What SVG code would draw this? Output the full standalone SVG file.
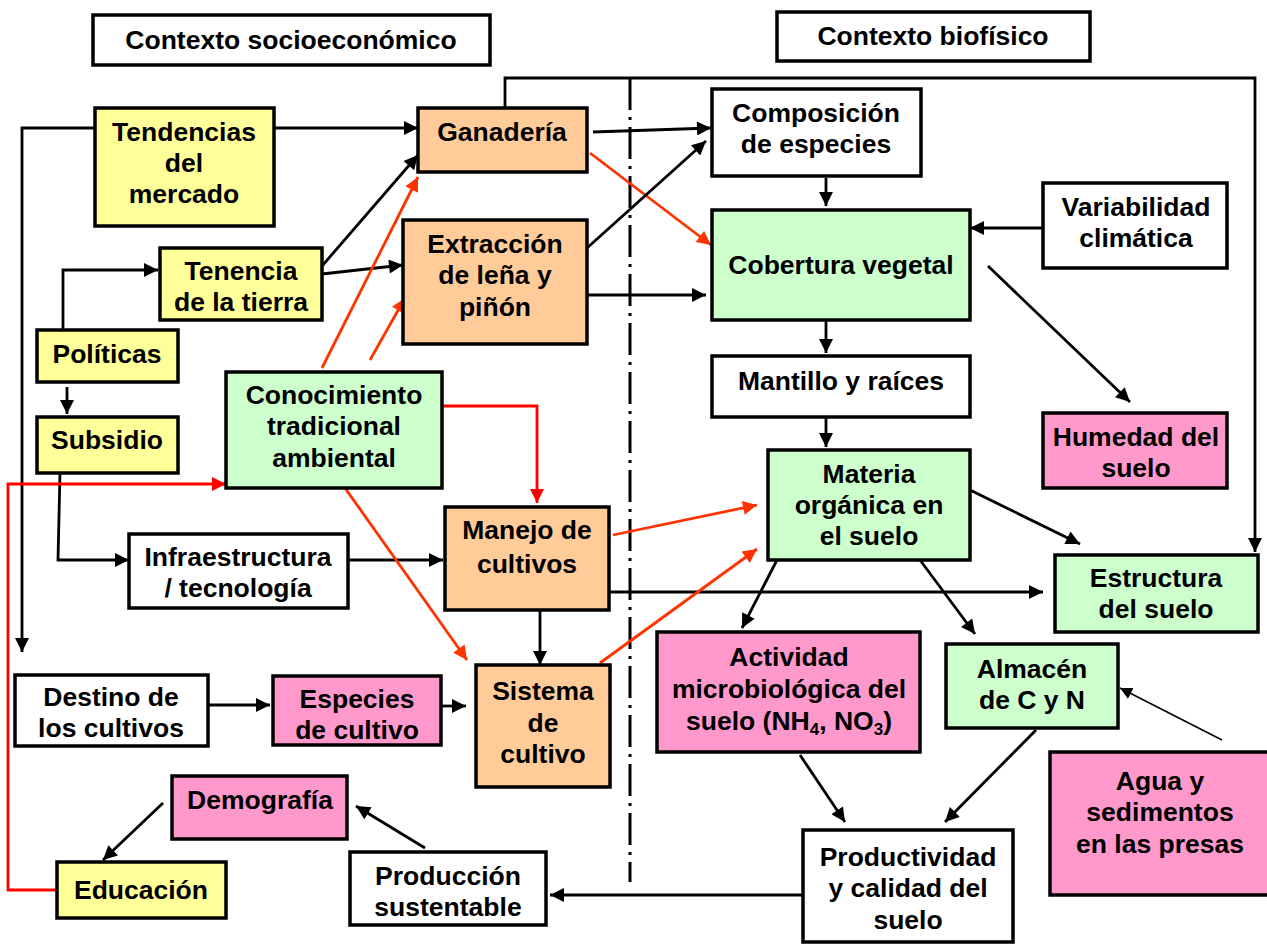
<svg xmlns="http://www.w3.org/2000/svg" width="1267" height="944" viewBox="0 0 1267 944">
<style>
.b{stroke:#000;stroke-width:3.5}
.w{fill:#fff}.y{fill:#FFFF99}.o{fill:#FFCC99}.g{fill:#CCFFCC}.p{fill:#FF99CC}
text{font-family:"Liberation Sans",Arial,sans-serif;font-weight:bold;font-size:26.5px;fill:#000;text-anchor:middle}
.k{fill:none;stroke:#000;stroke-width:2.8;marker-end:url(#ak)}
.r{fill:none;stroke:#FF3300;stroke-width:2.8;marker-end:url(#ar)}
.rr{fill:none;stroke:#FF0000;stroke-width:2.8;marker-end:url(#arr)}
</style>
<defs>
<marker id="ak" viewBox="0 0 10 10" refX="10" refY="5" markerWidth="16" markerHeight="14" markerUnits="userSpaceOnUse" orient="auto"><path d="M0,0 L10,5 L0,10 z" fill="#000"/></marker>
<marker id="ar" viewBox="0 0 10 10" refX="10" refY="5" markerWidth="16" markerHeight="14" markerUnits="userSpaceOnUse" orient="auto"><path d="M0,0 L10,5 L0,10 z" fill="#FF3300"/></marker>
<marker id="arr" viewBox="0 0 10 10" refX="10" refY="5" markerWidth="16" markerHeight="14" markerUnits="userSpaceOnUse" orient="auto"><path d="M0,0 L10,5 L0,10 z" fill="#FF0000"/></marker>
<marker id="akt" viewBox="0 0 10 10" refX="10" refY="5" markerWidth="15" markerHeight="12" markerUnits="userSpaceOnUse" orient="auto"><path d="M0,0 L10,5 L0,10 z" fill="#000"/></marker>
</defs>
<rect width="1267" height="944" fill="#fff"/>
<line x1="630" y1="78" x2="630" y2="882" stroke="#000" stroke-width="3" stroke-dasharray="32 7 3 7"/>
<g id="connectors">
<path class="k" d="M95,128 H22 V652"/>
<path class="k" d="M274,128 H418"/>
<path class="k" d="M505,108 V78 H1255 V552"/>
<path class="k" d="M593,132 L711,128"/>
<path class="r" d="M590,153 L711,245"/>
<path class="k" d="M322,266 L418,155"/>
<path class="k" d="M322,274 L403,265"/>
<path class="k" d="M63,330 V270 H158"/>
<path class="k" d="M67,387 V414"/>
<path class="k" d="M60,473 L58,560 H129"/>
<path class="k" d="M348,560 H443"/>
<path class="k" d="M587,248 L706,141"/>
<path class="k" d="M587,295 H706"/>
<path class="r" d="M322,368 L418,177"/>
<path class="r" d="M370,360 L405,298"/>
<path class="rr" d="M442,406 H537 V503"/>
<path class="r" d="M345,488 L467,660"/>
<path class="rr" d="M57,890 H8 V484 H226"/>
<path class="r" d="M613,535 L757,505"/>
<path class="k" d="M540,610 V665"/>
<path class="k" d="M609,592 H1043"/>
<path class="r" d="M600,663 L757,549"/>
<path class="k" d="M826,178 V206"/>
<path class="k" d="M1043,228 H970"/>
<path class="k" d="M988,266 L1130,402"/>
<path class="k" d="M826,320 V353"/>
<path class="k" d="M826,417 V447"/>
<path class="k" d="M970,490 L1080,544"/>
<path class="k" d="M777,560 L742,628"/>
<path class="k" d="M920,560 L975,634"/>
<path class="k" d="M800,755 L845,822"/>
<path class="k" d="M1036,730 L945,822"/>
<path d="M1222,740 L1120,688" fill="none" stroke="#000" stroke-width="1.5" marker-end="url(#akt)"/>
<path class="k" d="M803,895 H550"/>
<path class="k" d="M425,848 L356,806"/>
<path class="k" d="M163,803 L103,860"/>
<path class="k" d="M208,705 H270"/>
<path class="k" d="M441,706 H466"/>
</g>
<g id="ctx-socio"><rect class="b w" x="93" y="15" width="397" height="50"/><text x="291" y="49">Contexto socioeconómico</text></g>
<g id="ctx-bio"><rect class="b w" x="777" y="12" width="313" height="49"/><text x="933" y="45">Contexto biofísico</text></g>
<g id="tendencias"><rect class="b y" x="95" y="108" width="179" height="118"/><text x="184" y="141">Tendencias</text><text x="184" y="172">del</text><text x="184" y="203">mercado</text></g>
<g id="ganaderia"><rect class="b o" x="418" y="108" width="169" height="64"/><text x="502" y="141">Ganadería</text></g>
<g id="composicion"><rect class="b w" x="712" y="89" width="209" height="87"/><text x="816" y="122">Composición</text><text x="816" y="153">de especies</text></g>
<g id="cobertura"><rect class="b g" x="712" y="210" width="258" height="110"/><text x="841" y="274">Cobertura vegetal</text></g>
<g id="variabilidad"><rect class="b w" x="1043" y="183" width="184" height="85"/><text x="1136" y="216">Variabilidad</text><text x="1136" y="247">climática</text></g>
<g id="tenencia"><rect class="b y" x="160" y="248" width="162" height="72"/><text x="241" y="280">Tenencia</text><text x="241" y="311">de la tierra</text></g>
<g id="extraccion"><rect class="b o" x="403" y="220" width="184" height="124"/><text x="495" y="253">Extracción</text><text x="495" y="284">de leña y</text><text x="495" y="316">piñón</text></g>
<g id="politicas"><rect class="b y" x="37" y="330" width="141" height="52"/><text x="107" y="363">Políticas</text></g>
<g id="subsidio"><rect class="b y" x="37" y="417" width="141" height="56"/><text x="107" y="449">Subsidio</text></g>
<g id="conocimiento"><rect class="b g" x="226" y="372" width="216" height="116"/><text x="334" y="404">Conocimiento</text><text x="334" y="435">tradicional</text><text x="334" y="467">ambiental</text></g>
<g id="mantillo"><rect class="b w" x="712" y="356" width="258" height="61"/><text x="841" y="390">Mantillo y raíces</text></g>
<g id="humedad"><rect class="b p" x="1043" y="413" width="184" height="75"/><text x="1136" y="446">Humedad del</text><text x="1136" y="477">suelo</text></g>
<g id="materia"><rect class="b g" x="768" y="450" width="202" height="110"/><text x="869" y="483">Materia</text><text x="869" y="514">orgánica en</text><text x="869" y="545">el suelo</text></g>
<g id="infraestructura"><rect class="b w" x="129" y="534" width="219" height="74"/><text x="238" y="566">Infraestructura</text><text x="238" y="597">/ tecnología</text></g>
<g id="manejo"><rect class="b o" x="445" y="507" width="164" height="103"/><text x="527" y="539">Manejo de</text><text x="527" y="573">cultivos</text></g>
<g id="estructura"><rect class="b g" x="1055" y="555" width="203" height="77"/><text x="1156" y="587">Estructura</text><text x="1156" y="618">del suelo</text></g>
<g id="destino"><rect class="b w" x="15" y="675" width="193" height="71"/><text x="111" y="706">Destino de</text><text x="111" y="737">los cultivos</text></g>
<g id="especies"><rect class="b p" x="273" y="676" width="168" height="69"/><text x="357" y="708">Especies</text><text x="357" y="739">de cultivo</text></g>
<g id="sistema"><rect class="b o" x="476" y="665" width="134" height="122"/><text x="543" y="700">Sistema</text><text x="543" y="732">de</text><text x="543" y="763">cultivo</text></g>
<g id="actividad"><rect class="b p" x="657" y="632" width="263" height="120"/><text x="789" y="666">Actividad</text><text x="789" y="698">microbiológica del</text><text x="789" y="730">suelo (NH<tspan font-size="17" dy="5">4</tspan><tspan dy="-5">, NO</tspan><tspan font-size="17" dy="5">3</tspan><tspan dy="-5">)</tspan></text></g>
<g id="almacen"><rect class="b g" x="946" y="644" width="172" height="84"/><text x="1032" y="678">Almacén</text><text x="1032" y="709">de C y N</text></g>
<g id="agua"><rect class="b p" x="1050" y="752" width="220" height="143"/><text x="1160" y="790">Agua y</text><text x="1160" y="821">sedimentos</text><text x="1160" y="853">en las presas</text></g>
<g id="demografia"><rect class="b p" x="172" y="776" width="175" height="63"/><text x="260" y="809">Demografía</text></g>
<g id="educacion"><rect class="b y" x="57" y="862" width="169" height="56"/><text x="141" y="899">Educación</text></g>
<g id="produccion"><rect class="b w" x="350" y="852" width="196" height="73"/><text x="448" y="885">Producción</text><text x="448" y="916">sustentable</text></g>
<g id="productividad"><rect class="b w" x="803" y="830" width="210" height="112"/><text x="908" y="866">Productividad</text><text x="908" y="897">y calidad del</text><text x="908" y="929">suelo</text></g>
</svg>
